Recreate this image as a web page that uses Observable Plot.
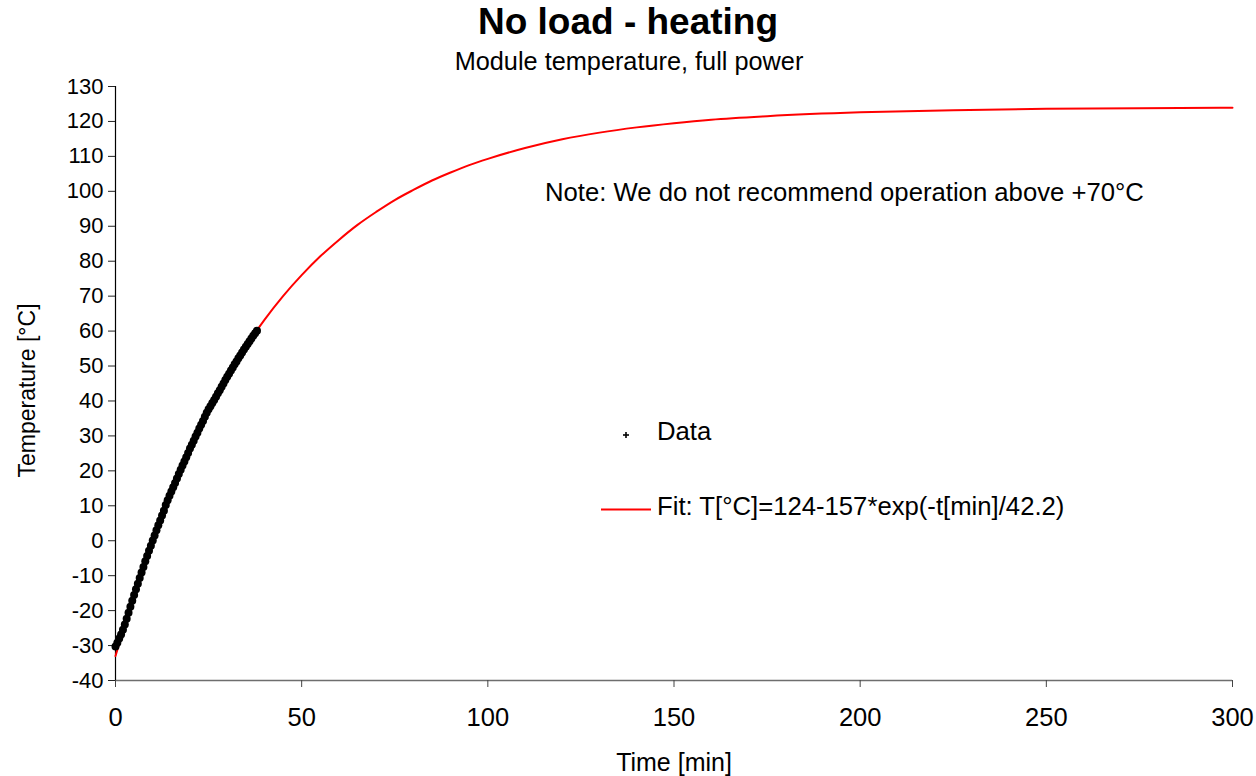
<!DOCTYPE html>
<html>
<head>
<meta charset="utf-8">
<script src="https://cdn.jsdelivr.net/npm/d3@7"></script>
<script src="https://cdn.jsdelivr.net/npm/@observablehq/plot@0.6"></script>
<style>
  html, body { margin: 0; padding: 0; background: #fff; }
  #wrap { position: relative; width: 1256px; height: 776px; overflow: hidden; font-family: "Liberation Sans", Arial, sans-serif; }
  #wrap > svg.plot { position: absolute; left: 0; top: 0; }
  #overlay { position: absolute; left: 0; top: 0; pointer-events: none; }
</style>
</head>
<body>
<div id="wrap"></div>
<script>
// ---- Data ----
const titleText = "No load - heating";
const subtitleText = "Module temperature, full power";
const xLabel = "Time [min]";
const yLabel = "Temperature [°C]";
const noteText = "Note: We do not recommend operation above +70°C";
const legendData = "Data";
const legendFit = "Fit: T[°C]=124-157*exp(-t[min]/42.2)";

const xTicks = [0, 50, 100, 150, 200, 250, 300];
const yTicks = [-40, -30, -20, -10, 0, 10, 20, 30, 40, 50, 60, 70, 80, 90, 100, 110, 120, 130];

// measured data points (time in min, temperature in °C)
const dataTime = [0, 0.5, 1, 1.5, 2, 2.5, 3, 3.5, 4, 4.5, 5, 5.5, 6, 6.5, 7, 7.5, 8, 8.5, 9, 9.5,
  10, 10.5, 11, 11.5, 12, 12.5, 13, 13.5, 14, 14.5, 15, 15.5, 16, 16.5, 17, 17.5, 18, 18.5, 19, 19.5,
  20, 20.5, 21, 21.5, 22, 22.5, 23, 23.5, 24, 24.5, 25, 25.5, 26, 26.5, 27, 27.5, 28, 28.5, 29, 29.5,
  30, 30.5, 31, 31.5, 32, 32.5, 33, 33.5, 34, 34.5, 35, 35.5, 36, 36.5, 37, 37.5, 38];
const dataTemp = [-30.3, -29.2, -28.0, -26.8, -25.5, -24.0, -22.3, -20.6, -18.9, -17.2, -15.5, -13.9, -12.3, -10.7, -9.1, -7.5, -5.9, -4.4, -2.9, -1.4,
  0.1, 1.5, 3.0, 4.4, 5.8, 7.2, 8.6, 10.2, 11.6, 12.9, 14.1, 15.3, 16.5, 17.8, 19.1, 20.3, 21.5, 22.7, 23.9, 25.1,
  26.4, 27.5, 28.6, 29.8, 30.9, 32.1, 33.2, 34.3, 35.5, 36.6, 37.6, 38.5, 39.4, 40.3, 41.2, 42.2, 43.1, 44.1, 45.0, 46.0,
  46.9, 47.8, 48.7, 49.6, 50.5, 51.3, 52.2, 53.0, 53.9, 54.7, 55.5, 56.3, 57.1, 57.9, 58.7, 59.4, 60.1];

// fitted curve
const fitTime = [0, 2.5, 5, 7.5, 10, 12.5, 15, 17.5, 20, 22.5, 25, 27.5, 30, 35, 40, 45, 50, 55, 60, 65, 70, 75,
  80, 85, 90, 95, 100, 110, 120, 130, 140, 150, 160, 175, 200, 225, 250, 275, 300];
const fitTemp = [-33.0, -24.0, -15.5, -7.4, 0.1, 7.2, 14.0, 20.3, 26.3, 31.9, 37.2, 42.2, 46.9, 55.5, 63.2, 70.0, 76.0, 81.4, 86.1, 90.4, 94.1, 97.5,
  100.4, 103.1, 105.4, 107.5, 109.3, 112.4, 114.9, 116.8, 118.3, 119.5, 120.5, 121.5, 122.6, 123.2, 123.6, 123.8, 123.9];

// ---- tables ----
const points = dataTime.map((t, i) => ({t, T: dataTemp[i]}));
const fit = fitTime.map((t, i) => ({t, T: fitTemp[i]}));

const FONT = "'Liberation Sans', Arial, sans-serif";

const chart = Plot.plot({
  width: 1256,
  height: 776,
  marginTop: 86,
  marginLeft: 115,
  marginRight: 24,
  marginBottom: 96,
  x: {domain: [0, 300]},
  y: {domain: [-40, 130]},
  style: {fontFamily: FONT, color: "#000", background: "transparent", overflow: "visible"},
  marks: [
    Plot.ruleY([-40], {stroke: "#6e6e6e", strokeWidth: 1.5}),
    Plot.ruleX([0], {stroke: "#000", strokeWidth: 1.2}),
    Plot.axisY({ticks: yTicks, tickSize: 7, tickPadding: 5, fontSize: 22, tickFormat: d => String(d), label: null, stroke: "#222"}),
    Plot.axisX({ticks: xTicks, tickSize: 7, tickPadding: 20, fontSize: 25.5, tickFormat: d => String(d), label: null, stroke: "#444"}),
    Plot.text([xLabel], {frameAnchor: "bottom", dy: 82, fontSize: 25, lineAnchor: "middle", textAnchor: "middle", fill: "#000"}),
    Plot.text([yLabel], {frameAnchor: "left", dx: -88, dy: 7, rotate: -90, fontSize: 23, lineAnchor: "middle", textAnchor: "middle", fill: "#000"}),
    Plot.line(fit, {x: "t", y: "T", stroke: "#ff0000", strokeWidth: 2, curve: "monotone-x"}),
    Plot.dot(points, {x: "t", y: "T", r: 4, fill: "#000", stroke: "none"})
  ]
});
chart.classList.add("plot");
const wrap = document.getElementById("wrap");
wrap.appendChild(chart);

// overlay: title, subtitle, note, legend
const ov = d3.select(wrap).append("svg").attr("id", "overlay").attr("width", 1256).attr("height", 776)
  .style("font-family", FONT);
ov.append("text").attr("x", 628).attr("y", 34).attr("text-anchor", "middle")
  .attr("font-size", 37).attr("font-weight", "bold").text(titleText);
ov.append("text").attr("x", 629).attr("y", 70).attr("text-anchor", "middle")
  .attr("font-size", 25.3).text(subtitleText);
ov.append("text").attr("x", 545).attr("y", 201).attr("font-size", 25.7).text(noteText);
// legend
const plusG = ov.append("g").attr("stroke", "#000").attr("stroke-width", 1.6);
plusG.append("line").attr("x1", 623).attr("x2", 629).attr("y1", 435).attr("y2", 435);
plusG.append("line").attr("x1", 626).attr("x2", 626).attr("y1", 432).attr("y2", 438);
ov.append("text").attr("x", 657).attr("y", 440).attr("font-size", 25.7).text(legendData);
ov.append("line").attr("x1", 601).attr("x2", 651).attr("y1", 509.5).attr("y2", 509.5)
  .attr("stroke", "#ff0000").attr("stroke-width", 2);
ov.append("text").attr("x", 657).attr("y", 515).attr("font-size", 25.7).text(legendFit);
</script>
</body>
</html>
